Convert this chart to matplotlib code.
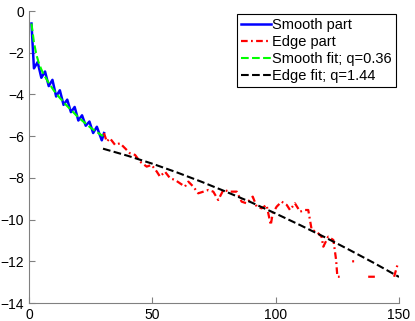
"""Smooth / edge decomposition with power-law fits."""

import numpy as np
import matplotlib

matplotlib.use("Agg")
import matplotlib.pyplot as plt

plt.rcParams["font.family"] = ["Liberation Sans", "DejaVu Sans"]

# smooth part (zigzag)
smooth_x = [1, 2, 3.5, 5, 6.5, 8, 9.5, 11, 12.5, 14, 15.5, 17, 18.5, 20,
            21.5, 23, 24.5, 26, 27.5, 29.5, 30.4]
smooth_y = [-0.6, -2.75, -2.45, -3.2, -2.9, -3.6, -3.3, -4.1, -3.8, -4.5,
            -4.25, -4.85, -4.6, -5.25, -5.0, -5.5, -5.3, -5.85, -5.55, -6.2,
            -5.85]

# edge part (noisy), NaN where the curve is missing
edge_x = [30.4, 31.5, 32.8, 34.9, 36.9, 39.6, 40.9, 43.0, 45.0, 47.7, 49.7,
          51.8, 53.1, 55.1, 57.2, 59.2, 61.2, 63.2, 64.6, 66.6, 68.6, 70.7,
          72.7, 74.7, 76.7, 78.8, 81.5, 84.2, 86.2, 88.2, 90.7, 92.3, 94.3,
          96.3, 98.0, 98.8, 100.4, 102.4, 104.5, 105.8, 107.8, 109.9, 111.9,
          113.2, 114.6, 116.6, 118.6, 119.3, 121.3, 123.4, 124.5, 125.0,
          126.7, 128.0, 131.0, 131.8, 133.0, 137.5, 140.9, 142.0, 148.0,
          149.3]
edge_y = [-5.85, -6.26, -6.1, -6.42, -6.34, -6.66, -6.82, -6.9, -7.22, -7.46,
          -7.38, -7.7, -7.94, -7.7, -8.02, -8.1, -8.26, -8.42, -8.18, -8.42,
          -8.74, -8.66, -8.58, -8.66, -9.06, -8.58, -8.66, -8.66, -9.14,
          -9.22, -8.9, -9.38, -9.46, -9.3, -10.26, -9.7, -9.38, -9.14, -9.3,
          -9.54, -9.22, -9.62, -9.54, -9.54, -10.5, -10.58, -10.82, -11.3,
          -10.82, -10.98, -11.94, -12.74, -12.74, np.nan, -12.0, -12.0,
          np.nan, -12.74, -12.74, np.nan, -12.74, -12.2]

# fitted curves, sampled
sfit_x = [1, 2, 3, 4, 5, 6, 8, 10, 12, 15, 18, 20, 22, 25, 28, 30]
sfit_y = [-0.6, -1.5, -2.1, -2.5, -2.8, -3.05, -3.45, -3.8, -4.1, -4.5,
          -4.86, -5.1, -5.3, -5.6, -5.84, -6.0]

efit_x = [30, 40, 50, 60, 70, 80, 90, 100, 110, 120, 130, 140, 150]
efit_y = [-6.6, -6.94, -7.32, -7.74, -8.19, -8.67, -9.17, -9.71, -10.27,
          -10.85, -11.46, -12.09, -12.75]

fig = plt.figure(figsize=(4.15, 3.21), dpi=100)
ax = fig.add_axes([0.0699, 0.056, 0.8916, 0.9097])

ax.plot(smooth_x, smooth_y, color="#0000ff", lw=1.8, label="Smooth part")
ax.plot(edge_x, edge_y, color="#ff0000", lw=1.6, dashes=[3, 1.5, 0.8, 1.5],
        label="Edge part")
ax.plot(sfit_x, sfit_y, color="#00ff00", lw=1.5, ls="--",
        label="Smooth fit; q=0.36")
ax.plot(efit_x, efit_y, color="black", lw=1.5, ls="--",
        label="Edge fit; q=1.44")

ax.set_xlim(0, 150)
ax.set_ylim(-14, 0)
ax.set_xticks([0, 50, 100, 150])
ax.set_yticks([0, -2, -4, -6, -8, -10, -12, -14])
ax.tick_params(direction="in", labelsize=10, color="#808080", length=4)
for side in ("top", "right"):
    ax.spines[side].set_visible(False)
for side in ("left", "bottom"):
    ax.spines[side].set_color("#808080")

leg = ax.legend(loc="upper right", fontsize=10.5, handlelength=2.0,
                handletextpad=0.1, borderpad=0.3, labelspacing=0.2,
                fancybox=False, framealpha=1, borderaxespad=0.2)
leg.get_frame().set_edgecolor("black")
leg.get_frame().set_linewidth(0.8)

fig.savefig("out.png", dpi=100)
